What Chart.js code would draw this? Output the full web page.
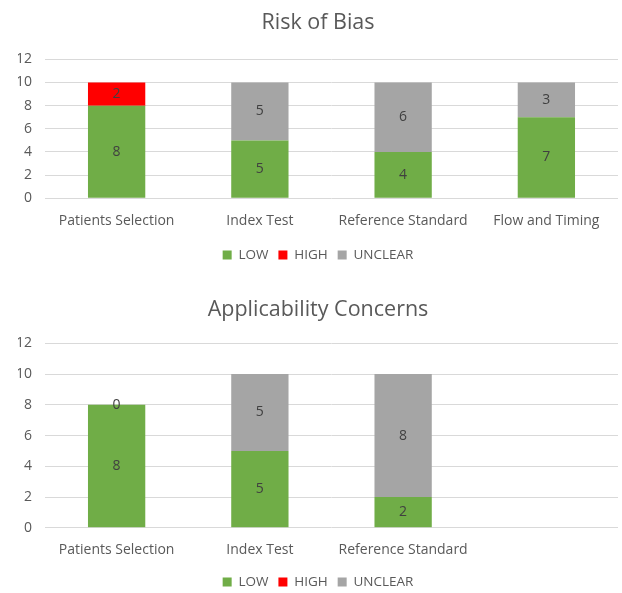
<!DOCTYPE html>
<html>
<head>
<meta charset="utf-8">
<script src="https://cdn.jsdelivr.net/npm/chart.js@4.4.1/dist/chart.umd.min.js"></script>
<style>
  html, body { margin: 0; padding: 0; background: #ffffff; overflow: hidden; }
  .panel { position: absolute; left: 0; width: 622px; }
  #biasPanel { top: 0; height: 290px; }
  #concernPanel { top: 290px; height: 320px; }
</style>
</head>
<body>
<div class="panel" id="biasPanel"><canvas id="biasChart"></canvas></div>
<div class="panel" id="concernPanel"><canvas id="concernChart"></canvas></div>
<script>
// QUADAS-2 domain judgements (number of studies)
const biasDomains = ['Patients Selection', 'Index Test', 'Reference Standard', 'Flow and Timing'];
const biasLow = [8, 5, 4, 7];
const biasHigh = [2, null, null, null];
const biasUnclear = [null, 5, 6, 3];

const concernDomains = ['Patients Selection', 'Index Test', 'Reference Standard', ''];
const concernLow = [8, 5, 2, null];
const concernHigh = [0, null, null, null];
const concernUnclear = [null, 5, 8, null];

const yTicks = [0, 2, 4, 6, 8, 10, 12];

const COLORS = { low: '#70AD47', high: '#FF0000', unclear: '#A5A5A5' };
const FONT = '"Open Sans", "DejaVu Sans", sans-serif';
const TEXT = '#595959';

// Writes each segment's value in the middle of its bar
const valueLabels = {
  id: 'valueLabels',
  afterDatasetsDraw(chart) {
    const ctx = chart.ctx;
    ctx.save();
    ctx.font = '14px ' + FONT;
    ctx.fillStyle = '#404040';
    ctx.textAlign = 'center';
    ctx.textBaseline = 'middle';
    chart.data.datasets.forEach((ds, i) => {
      chart.getDatasetMeta(i).data.forEach((bar, j) => {
        const v = ds.data[j];
        if (v === null || v === undefined) return;
        const p = bar.getProps(['x', 'y', 'base'], true);
        ctx.fillText(String(v), p.x, (p.y + p.base) / 2);
      });
    });
    ctx.restore();
  }
};

function buildChart(canvasId, title, labels, low, high, unclear, lay) {
  return new Chart(document.getElementById(canvasId), {
    type: 'bar',
    data: {
      labels: labels,
      datasets: [
        { label: 'LOW', data: low, backgroundColor: COLORS.low },
        { label: 'HIGH', data: high, backgroundColor: COLORS.high },
        { label: 'UNCLEAR', data: unclear, backgroundColor: COLORS.unclear }
      ]
    },
    options: {
      responsive: true,
      maintainAspectRatio: false,
      animation: false,
      events: [],
      layout: { padding: { top: 0, right: 4, bottom: lay.bottom, left: 18 } },
      datasets: { bar: { categoryPercentage: 1.0, barPercentage: 0.4 } },
      scales: {
        x: {
          stacked: true,
          grid: { display: false },
          border: { display: false },
          ticks: { color: TEXT, font: { family: FONT, size: 14 }, padding: 6, maxRotation: 0, autoSkip: false },
          afterFit(scale) { scale.height = lay.xHeight; }
        },
        y: {
          stacked: true,
          min: 0,
          max: 12,
          afterBuildTicks(scale) { scale.ticks = yTicks.map(v => ({ value: v })); },
          grid: { color: '#D9D9D9', lineWidth: 1, drawTicks: false },
          border: { display: false },
          ticks: { color: TEXT, font: { family: FONT, size: 14 }, padding: 13 },
          afterFit(scale) { scale.width = 27; }
        }
      },
      plugins: {
        tooltip: { enabled: false },
        title: {
          display: true,
          text: title,
          color: TEXT,
          font: { family: FONT, size: 21.5, weight: 'normal' },
          padding: { top: lay.titleTop, bottom: lay.titleBottom }
        },
        legend: {
          position: 'bottom',
          labels: {
            color: TEXT,
            font: { family: FONT, size: 13.5 },
            boxWidth: 9,
            boxHeight: 9,
            padding: 10
          }
        }
      }
    },
    plugins: [valueLabels]
  });
}

buildChart('biasChart', 'Risk of Bias', biasDomains, biasLow, biasHigh, biasUnclear,
  { titleTop: 10.4, titleBottom: 23.1, xHeight: 40, bottom: 18.2 });
buildChart('concernChart', 'Applicability Concerns', concernDomains, concernLow, concernHigh, concernUnclear,
  { titleTop: 7.4, titleBottom: 20.1, xHeight: 37.5, bottom: 11.2 });
</script>
</body>
</html>
